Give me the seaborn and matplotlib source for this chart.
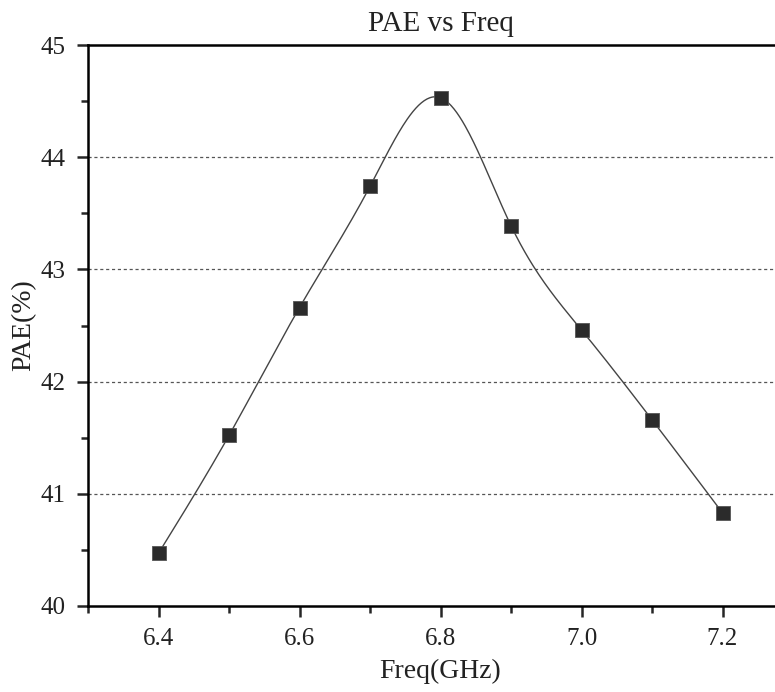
import numpy as np
import pandas as pd
import matplotlib
matplotlib.use("Agg")
import matplotlib.pyplot as plt
import seaborn as sns
from matplotlib.ticker import MultipleLocator

freq = [6.4, 6.5, 6.6, 6.7, 6.8, 6.9, 7.0, 7.1, 7.2]
pae = [40.47, 41.52, 42.66, 43.74, 44.53, 43.39, 42.46, 41.66, 40.83]
x_ticks = [6.4, 6.6, 6.8, 7.0, 7.2]
x_tick_labels = ["6.4", "6.6", "6.8", "7.0", "7.2"]
y_ticks = [40, 41, 42, 43, 44, 45]


def natural_spline(x, y, n=400):
    x = np.asarray(x, float)
    y = np.asarray(y, float)
    k = len(x)
    h = np.diff(x)
    A = np.zeros((k, k))
    b = np.zeros(k)
    A[0, 0] = A[-1, -1] = 1
    for i in range(1, k - 1):
        A[i, i - 1] = h[i - 1]
        A[i, i] = 2 * (h[i - 1] + h[i])
        A[i, i + 1] = h[i]
        b[i] = 3 * ((y[i + 1] - y[i]) / h[i] - (y[i] - y[i - 1]) / h[i - 1])
    c = np.linalg.solve(A, b)
    xs = np.linspace(x[0], x[-1], n)
    ys = np.empty_like(xs)
    for j, xv in enumerate(xs):
        i = min(np.searchsorted(x, xv, side="right") - 1, k - 2)
        bi = (y[i + 1] - y[i]) / h[i] - h[i] * (2 * c[i] + c[i + 1]) / 3
        di = (c[i + 1] - c[i]) / (3 * h[i])
        t = xv - x[i]
        ys[j] = y[i] + bi * t + c[i] * t ** 2 + di * t ** 3
    return xs, ys


sns.set_style("white")
plt.rcParams["font.family"] = ["Liberation Serif", "DejaVu Serif"]

df = pd.DataFrame({"Freq": freq, "PAE": pae})
xs, ys = natural_spline(freq, pae)
curve = pd.DataFrame({"Freq": xs, "PAE": ys})

fig = plt.figure(figsize=(7.75, 6.92), dpi=100)
ax = fig.add_axes([88 / 775, 86 / 692, 705 / 775, 561 / 692])

sns.lineplot(data=curve, x="Freq", y="PAE", ax=ax, color="#444444", linewidth=1.0, sort=False)
sns.scatterplot(data=df, x="Freq", y="PAE", ax=ax, marker="s", s=110,
                color="#2b2b2b", edgecolor="#555555", linewidth=0.6, zorder=5)

ax.set_xlim(6.3, 7.3)
ax.set_ylim(40, 45)
ax.set_xticks(x_ticks)
ax.set_xticklabels(x_tick_labels)
ax.set_yticks(y_ticks)
ax.xaxis.set_minor_locator(MultipleLocator(0.1))
ax.yaxis.set_minor_locator(MultipleLocator(0.5))
ax.tick_params(axis="both", which="major", direction="out", length=8, width=1.8,
               labelsize=18, labelcolor="#222222", bottom=True, left=True,
               top=False, right=False, pad=8)
ax.tick_params(axis="both", which="minor", direction="out", length=5, width=1.8,
               bottom=True, left=True, top=False, right=False)

for y in [41, 42, 43, 44]:
    ax.axhline(y, color="#555555", linestyle=(0, (2.5, 2.2)), linewidth=0.9, zorder=1)

for s in ax.spines.values():
    s.set_linewidth(1.8)
    s.set_color("black")

ax.set_title("PAE vs Freq", fontsize=21, pad=10, color="#222222")
ax.set_xlabel("Freq(GHz)", fontsize=20, labelpad=6, color="#222222")
ax.set_ylabel("PAE(%)", fontsize=20, labelpad=3, color="#222222")

fig.savefig("out.png", dpi=100)
